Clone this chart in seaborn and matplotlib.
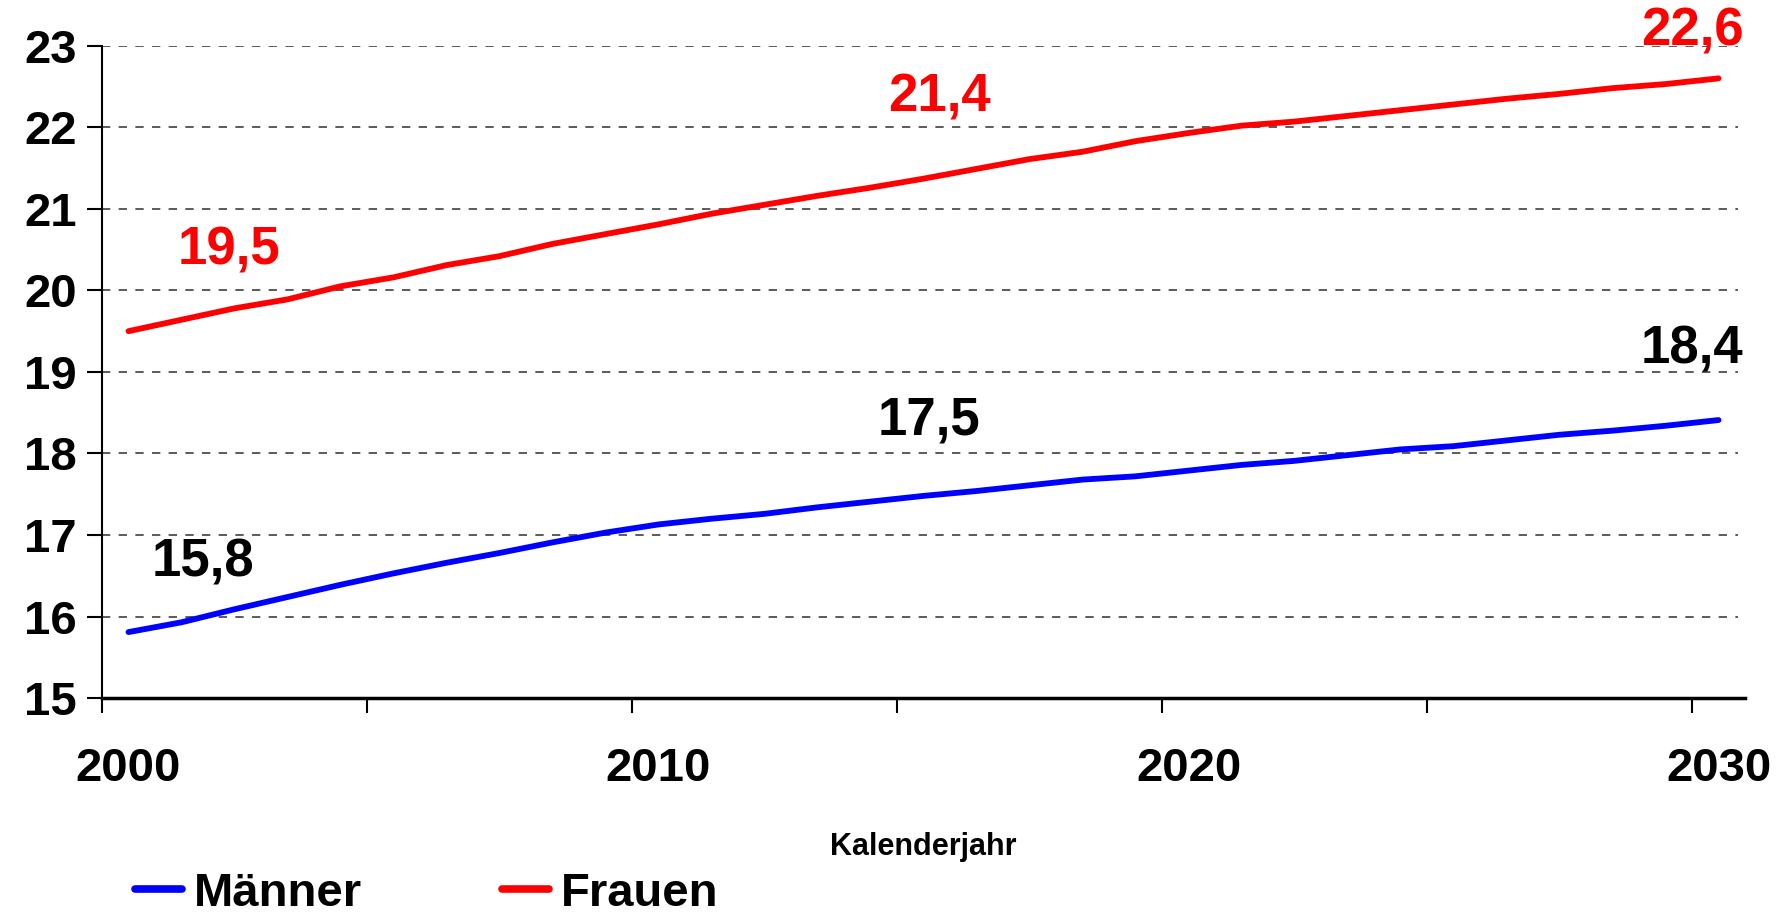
import pandas as pd
import seaborn as sns
import matplotlib.pyplot as plt
from matplotlib.ticker import FixedLocator

years = list(range(2000, 2031))
maenner = [15.81, 15.93, 16.09, 16.24, 16.39, 16.53, 16.66, 16.78, 16.91, 17.03,
           17.13, 17.20, 17.26, 17.34, 17.41, 17.48, 17.54, 17.61, 17.68, 17.72,
           17.79, 17.86, 17.91, 17.98, 18.05, 18.09, 18.16, 18.23, 18.28, 18.34,
           18.41]
frauen = [19.50, 19.64, 19.78, 19.89, 20.05, 20.16, 20.31, 20.42, 20.57, 20.69,
          20.81, 20.94, 21.05, 21.16, 21.26, 21.37, 21.49, 21.61, 21.70, 21.83,
          21.93, 22.02, 22.07, 22.14, 22.21, 22.28, 22.35, 22.41, 22.48, 22.53,
          22.60]
series_names = ['Männer', 'Frauen']
series_colors = ['#0000ff', '#ff0000']

# Beschriftungen (Text, Jahr, Wert)
labels_m = ['15,8', '17,5', '18,4']
labels_f = ['19,5', '21,4', '22,6']
label_x_m = [2001.4, 2015.1, 2029.5]
label_y_m = [16.66, 18.40, 19.27]
label_x_f = [2001.9, 2015.3, 2029.5]
label_y_f = [20.49, 22.37, 23.17]

y_ticks = list(range(15, 24))
x_labels = [2000, 2010, 2020, 2030]

data = pd.DataFrame({
    'Jahr': years * 2,
    'Wert': maenner + frauen,
    'Geschlecht': ['Männer'] * len(years) + ['Frauen'] * len(years),
})

sns.set_style('white')
plt.rcParams['font.family'] = ['Liberation Sans', 'DejaVu Sans']
plt.rcParams['font.weight'] = 'bold'
plt.rcParams['text.color'] = 'black'
plt.rcParams['axes.labelcolor'] = 'black'
plt.rcParams['xtick.color'] = 'black'
plt.rcParams['ytick.color'] = 'black'

fig = plt.figure(figsize=(17.83, 9.15), dpi=100)
ax = fig.add_axes([0.0572, 0.237, 0.9215, 0.713])

sns.lineplot(data=data, x='Jahr', y='Wert', hue='Geschlecht',
             hue_order=series_names, palette=series_colors,
             linewidth=4.2, ax=ax, legend=False)

ax.set_xlim(1999.5, 2030.5)
ax.set_ylim(15, 23)

# Gitterlinien gestrichelt
for v in y_ticks[1:]:
    ax.axhline(v, xmin=0, xmax=0.996, color='#404040', lw=1.2,
               linestyle=(0, (5, 5)), zorder=0)

ax.set_yticks(y_ticks)
ax.set_yticklabels([str(v) for v in y_ticks], fontsize=34, fontweight='bold')
ax.tick_params(axis='y', direction='out', length=11, width=1.5, pad=7, left=True)

ax.xaxis.set_major_locator(FixedLocator(x_labels))
ax.set_xticklabels([str(v) for v in x_labels], fontsize=34, fontweight='bold')
ax.tick_params(axis='x', which='major', length=0, pad=35)
ax.xaxis.set_minor_locator(FixedLocator([y - 0.5 for y in years[::5]]))
ax.tick_params(axis='x', which='minor', direction='out', length=11, width=1.5, bottom=True)

for side in ['top', 'right']:
    ax.spines[side].set_visible(False)
ax.spines['left'].set_linewidth(1.5)
ax.spines['bottom'].set_linewidth(2.5)
ax.spines['left'].set_color('black')
ax.spines['bottom'].set_color('black')

ax.set_xlabel('Kalenderjahr', fontsize=22, fontweight='bold', labelpad=30,
              color='black')
ax.set_ylabel('')

for t, x, y in zip(labels_m, label_x_m, label_y_m):
    ax.text(x, y, t, color='black', fontsize=38, fontweight='bold',
            ha='center', va='center', clip_on=False)
for t, x, y in zip(labels_f, label_x_f, label_y_f):
    ax.text(x, y, t, color='#ff0000', fontsize=38, fontweight='bold',
            ha='center', va='center', clip_on=False)

handles = [plt.Line2D([], [], color=c, lw=5.5) for c in series_colors]
fig.legend(handles, series_names, loc='lower left', bbox_to_anchor=(0.052, -0.047),
           ncol=2, frameon=False, prop={'size': 34, 'weight': 'bold'},
           handlelength=1.0, handletextpad=0.25, columnspacing=2.95)

fig.savefig('out.png', dpi=100)
